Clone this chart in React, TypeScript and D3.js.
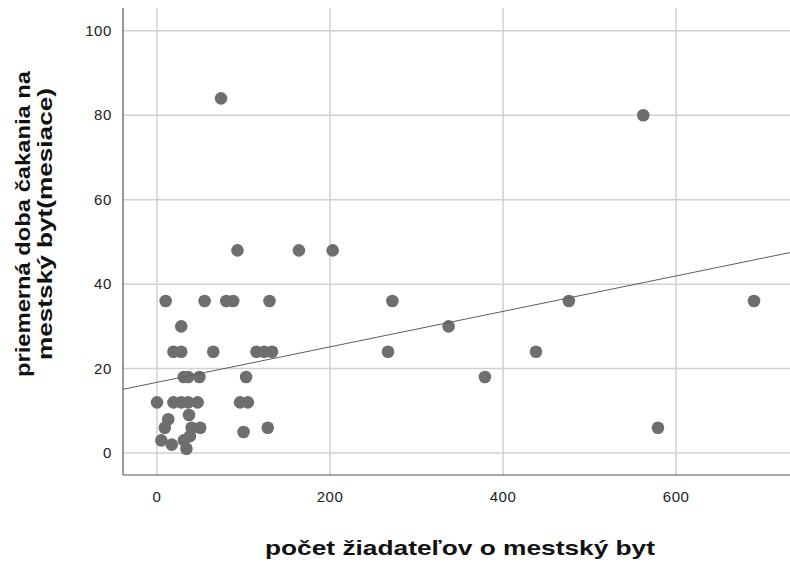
import React from "react";
import * as d3 from "d3";

const applicants: number[] = [74, 562, 93, 164, 203, 690, 476, 272, 337, 267, 438, 379, 579, 10, 55, 80, 88, 130, 28, 19, 28, 65, 115, 124, 133, 31, 36, 49, 103, 0, 19, 28, 36, 47, 96, 105, 37, 13, 9, 40, 50, 100, 128, 5, 17, 31, 38, 34];
const waitMonths: number[] = [84, 80, 48, 48, 48, 36, 36, 36, 30, 24, 24, 18, 6, 36, 36, 36, 36, 36, 30, 24, 24, 24, 24, 24, 24, 18, 18, 18, 18, 12, 12, 12, 12, 12, 12, 12, 9, 8, 6, 6, 6, 5, 6, 3, 2, 3, 4, 1];
const fitIntercept = 16.75;
const fitSlope = 0.042;
const xTicks = [0, 200, 400, 600];
const yTicks = [0, 20, 40, 60, 80, 100];
const xDomain: [number, number] = [-39.3, 731.6];
const yDomain: [number, number] = [-5.2, 105.4];

export default function App() {
  const W = 790, H = 563;
  const left = 123, right = 790, top = 8, bottom = 475;
  const x = d3.scaleLinear().domain(xDomain).range([left, right]);
  const y = d3.scaleLinear().domain(yDomain).range([bottom, top]);
  const pts = applicants.map((a, i) => ({ a, w: waitMonths[i] }));
  const line = d3.line<number>().x((d) => x(d)).y((d) => y(fitIntercept + fitSlope * d));
  const font = "'Liberation Sans', Arial, sans-serif";
  return (
    <svg width={W} height={H} style={{ position: "absolute", left: 0, top: 0, background: "#fff" }} fontFamily={font}>
      <rect x={0} y={0} width={W} height={H} fill="#fff" />
      {yTicks.map((t) => (
        <line key={"gy" + t} x1={left} x2={right} y1={y(t)} y2={y(t)} stroke="#d0d0d0" strokeWidth={1.5} />
      ))}
      {xTicks.map((t) => (
        <line key={"gx" + t} x1={x(t)} x2={x(t)} y1={top} y2={bottom} stroke="#d0d0d0" strokeWidth={1.5} />
      ))}
      <line x1={left} x2={left} y1={top} y2={bottom} stroke="#555" strokeWidth={1.2} />
      <line x1={left} x2={right} y1={bottom} y2={bottom} stroke="#555" strokeWidth={1.2} />
      {yTicks.map((t) => (
        <text key={"ty" + t} x={112} y={y(t)} dy="0.35em" textAnchor="end" fontSize={15} letterSpacing={0.6} fill="#222">{t}</text>
      ))}
      {xTicks.map((t) => (
        <text key={"tx" + t} x={x(t)} y={497} dy="0.35em" textAnchor="middle" fontSize={15} letterSpacing={0.6} fill="#222">{t}</text>
      ))}
      {pts.map((p, i) => (
        <circle key={i} cx={x(p.a)} cy={y(p.w)} r={6.3} fill="#6e6e6e" />
      ))}
      <path d={line(xDomain) || ""} stroke="#5e5e5e" strokeWidth={1} fill="none" />
      <text x={460} y={548} dy="0.35em" textAnchor="middle" fontSize={21} fontWeight="bold" fill="#111" textLength={390} lengthAdjust="spacingAndGlyphs">počet žiadateľov o mestský byt</text>
      <g transform="translate(23,224) rotate(-90)">
        <text x={0} y={0} dy="0.35em" textAnchor="middle" fontSize={21} fontWeight="bold" fill="#111" textLength={306} lengthAdjust="spacingAndGlyphs">priemerná doba čakania na</text>
        <text x={0} y={22} dy="0.35em" textAnchor="middle" fontSize={21} fontWeight="bold" fill="#111" textLength={272} lengthAdjust="spacingAndGlyphs">mestský byt(mesiace)</text>
      </g>
    </svg>
  );
}
